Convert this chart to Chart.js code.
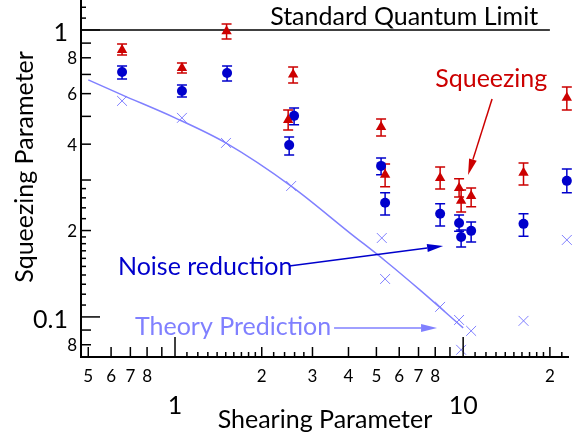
<!DOCTYPE html>
<html>
<head>
<meta charset="utf-8">
<script src="https://cdn.jsdelivr.net/npm/chart.js@4.4.1/dist/chart.umd.min.js"></script>
<style>
    html, body { margin: 0; padding: 0; background: #fff; }
    #wrap { width: 575px; height: 440px; position: relative; }
</style>
</head>
<body>
<div id="wrap"><canvas id="squeezeChart"></canvas></div>
<script>
// Squeezing (red triangles)
const sqzX  = [0.655, 1.057, 1.51, 2.57, 2.47, 5.19, 5.36, 8.32, 9.68, 9.84, 10.66, 16.2, 22.9];
const sqzY  = [0.852, 0.737, 0.99, 0.70, 0.486, 0.459, 0.313, 0.305, 0.2815, 0.254, 0.264, 0.318, 0.58];
const sqzLo = [0.818, 0.708, 0.93, 0.654, 0.448, 0.427, 0.284, 0.279, 0.262, 0.232, 0.242, 0.288, 0.526];
const sqzHi = [0.894, 0.767, 1.049, 0.743, 0.526, 0.490, 0.341, 0.333, 0.303, 0.277, 0.2815, 0.344, 0.633];

// Noise reduction (blue circles)
const noiseX  = [0.655, 1.057, 1.516, 2.59, 2.49, 5.19, 5.36, 8.32, 9.68, 9.84, 10.66, 16.2, 22.9];
const noiseY  = [0.714, 0.613, 0.708, 0.502, 0.397, 0.336, 0.25, 0.229, 0.2126, 0.190, 0.1995, 0.211, 0.298];
const noiseLo = [0.675, 0.584, 0.664, 0.467, 0.367, 0.313, 0.2266, 0.2075, 0.199, 0.1754, 0.1825, 0.191, 0.271];
const noiseHi = [0.749, 0.643, 0.749, 0.535, 0.424, 0.358, 0.271, 0.248, 0.2266, 0.201, 0.214, 0.229, 0.328];

// Theory prediction (crosses + curve)
const theoryX = [0.655, 1.057, 1.503, 2.53, 5.22, 5.36, 8.32, 9.68, 9.84, 10.66, 16.2, 22.9];
const theoryY = [0.566, 0.494, 0.404, 0.286, 0.1884, 0.1356, 0.1084, 0.0976, 0.0768, 0.0894, 0.0969, 0.1855];
const curveX = [0.5, 0.655, 1.0, 1.5, 2.55, 4.05, 5.36, 7.09, 10];
const curveY = [0.670, 0.594, 0.494, 0.404, 0.284, 0.196, 0.157, 0.124, 0.0916];

// Standard quantum limit
const sqlX = [0.4718, 20];
const sqlY = [1, 1];

// Ticks
const xMajor = [1, 10];
const xMajorText = ['1', '10'];
const xMedium = [0.5, 0.6, 0.7, 0.8, 0.9, 2, 3, 4, 5, 6, 7, 8, 9, 20];
const xSmall = [1.1, 1.2, 1.3, 1.4, 1.5, 1.6, 1.7, 1.8, 1.9, 2.2, 2.4, 2.6, 2.8,
                11, 12, 13, 14, 15, 16, 17, 18, 19, 22];
const xLabelAt = [0.5, 0.6, 0.7, 0.8, 2, 3, 4, 5, 6, 7, 8, 20];
const xLabelText = ['5', '6', '7', '8', '2', '3', '4', '5', '6', '7', '8', '2'];

const yMajor = [1, 0.1];
const yMajorText = ['1', '0.1'];
const yMedium = [0.08, 0.09, 0.2, 0.3, 0.4, 0.5, 0.6, 0.7, 0.8, 0.9];
const ySmall = [0.11, 0.12, 0.13, 0.14, 0.15, 0.16, 0.17, 0.18, 0.19,
                0.22, 0.24, 0.26, 0.28, 1.1, 1.2];
const yLabelAt = [0.8, 0.6, 0.4, 0.2, 0.08];
const yLabelText = ['8', '6', '4', '2', '8'];

const RED = '#cc0000';
const BLUE = '#0000cc';
const LIGHT = '#8080ff';
const FONT = 'Lato, "Liberation Sans", sans-serif';

// Annotations (text + arrows), in data coordinates
const notes = [
    { text: 'Standard Quantum Limit', color: '#000', x: 6.24, y: 1.041, align: 'center' },
    { text: 'Squeezing', color: RED, x: 8.0, y: 0.633, align: 'left',
      arrow: [12.6, 0.575, 10.4, 0.3126] },
    { text: 'Noise reduction', color: BLUE, x: 0.634, y: 0.140, align: 'left',
      arrow: [2.49, 0.1506, 8.52, 0.1768] },
    { text: 'Theory Prediction', color: LIGHT, x: 0.726, y: 0.0866, align: 'left',
      arrow: [3.565, 0.0915, 8.12, 0.0915] }
];

const pts = (xs, ys) => xs.map((x, i) => ({ x: x, y: ys[i] }));

const errorBars = [
    { xs: sqzX, lo: sqzLo, hi: sqzHi, color: RED },
    { xs: noiseX, lo: noiseLo, hi: noiseHi, color: BLUE }
];

const errorBarPlugin = {
    id: 'errorBars',
    beforeDatasetsDraw(chart) {
        const ctx = chart.ctx, xs = chart.scales.x, ys = chart.scales.y;
        ctx.save();
        ctx.lineWidth = 1.5;
        errorBars.forEach(s => {
            ctx.strokeStyle = s.color;
            s.xs.forEach((x, i) => {
                const px = xs.getPixelForValue(x);
                const top = ys.getPixelForValue(s.hi[i]);
                const bot = ys.getPixelForValue(s.lo[i]);
                ctx.beginPath();
                ctx.moveTo(px, top); ctx.lineTo(px, bot);
                ctx.moveTo(px - 5, top); ctx.lineTo(px + 5, top);
                ctx.moveTo(px - 5, bot); ctx.lineTo(px + 5, bot);
                ctx.stroke();
            });
        });
        ctx.restore();
    }
};

const axesPlugin = {
    id: 'logAxes',
    afterDraw(chart) {
        const ctx = chart.ctx, xs = chart.scales.x, ys = chart.scales.y, a = chart.chartArea;
        ctx.save();
        ctx.strokeStyle = '#000';
        ctx.fillStyle = '#000';
        ctx.lineWidth = 2;
        ctx.beginPath();
        ctx.moveTo(a.left, a.top); ctx.lineTo(a.left, a.bottom); ctx.lineTo(a.right, a.bottom);
        ctx.stroke();

        ctx.lineWidth = 1.5;
        const xTick = (vals, len) => vals.forEach(v => {
            const p = xs.getPixelForValue(v);
            ctx.beginPath(); ctx.moveTo(p, a.bottom); ctx.lineTo(p, a.bottom - len); ctx.stroke();
        });
        const yTick = (vals, len) => vals.forEach(v => {
            const p = ys.getPixelForValue(v);
            ctx.beginPath(); ctx.moveTo(a.left, p); ctx.lineTo(a.left + len, p); ctx.stroke();
        });
        xTick(xMajor, 20); xTick(xMedium, 10); xTick(xSmall, 5);
        yTick(yMajor, 19); yTick(yMedium, 10); yTick(ySmall, 5);

        // tick labels
        ctx.textBaseline = 'middle';
        ctx.textAlign = 'center';
        ctx.font = '17px ' + FONT;
        xLabelAt.forEach((v, i) => ctx.fillText(xLabelText[i], xs.getPixelForValue(v), a.bottom + 20));
        ctx.font = '25px ' + FONT;
        xMajor.forEach((v, i) => ctx.fillText(xMajorText[i], xs.getPixelForValue(v), a.bottom + 49));

        ctx.textAlign = 'right';
        ctx.font = '17px ' + FONT;
        yLabelAt.forEach((v, i) => ctx.fillText(yLabelText[i], a.left - 4, ys.getPixelForValue(v) + 1));
        ctx.font = '25px ' + FONT;
        yMajor.forEach((v, i) => ctx.fillText(yMajorText[i], a.left - 13, ys.getPixelForValue(v) + 3));

        // axis titles
        ctx.textBaseline = 'alphabetic';
        ctx.textAlign = 'center';
        ctx.fillText('Shearing Parameter', 325, 428);
        ctx.save();
        ctx.translate(33, 167);
        ctx.rotate(-Math.PI / 2);
        ctx.fillText('Squeezing Parameter', 0, 0);
        ctx.restore();

        // annotations
        notes.forEach(n => {
            ctx.fillStyle = n.color;
            ctx.strokeStyle = n.color;
            ctx.textAlign = n.align;
            ctx.fillText(n.text, xs.getPixelForValue(n.x), ys.getPixelForValue(n.y));
            if (n.arrow) {
                const x1 = xs.getPixelForValue(n.arrow[0]), y1 = ys.getPixelForValue(n.arrow[1]);
                const x2 = xs.getPixelForValue(n.arrow[2]), y2 = ys.getPixelForValue(n.arrow[3]);
                const ang = Math.atan2(y2 - y1, x2 - x1);
                const hl = 16, hw = 4;
                const bx = x2 - hl * Math.cos(ang), by = y2 - hl * Math.sin(ang);
                ctx.lineWidth = 1.5;
                ctx.beginPath(); ctx.moveTo(x1, y1); ctx.lineTo(bx, by); ctx.stroke();
                ctx.beginPath();
                ctx.moveTo(x2, y2);
                ctx.lineTo(bx - hw * Math.sin(ang), by + hw * Math.cos(ang));
                ctx.lineTo(bx + hw * Math.sin(ang), by - hw * Math.cos(ang));
                ctx.closePath();
                ctx.fill();
            }
        });
        ctx.restore();
    }
};

new Chart(document.getElementById('squeezeChart'), {
    type: 'scatter',
    data: {
        datasets: [
            {
                label: 'Squeezing',
                data: pts(sqzX, sqzY),
                pointStyle: 'triangle',
                pointRadius: 6,
                backgroundColor: RED,
                borderColor: RED,
                borderWidth: 0,
                clip: false
            },
            {
                label: 'Noise reduction',
                data: pts(noiseX, noiseY),
                pointStyle: 'circle',
                pointRadius: 5,
                backgroundColor: BLUE,
                borderColor: BLUE,
                borderWidth: 0,
                clip: false
            },
            {
                label: 'Theory points',
                data: pts(theoryX, theoryY),
                pointStyle: 'crossRot',
                pointRadius: 7,
                borderColor: LIGHT,
                borderWidth: 1,
                clip: false
            },
            {
                label: 'Theory Prediction',
                data: pts(curveX, curveY),
                showLine: true,
                cubicInterpolationMode: 'monotone',
                borderColor: LIGHT,
                borderWidth: 1.5,
                pointRadius: 0
            },
            {
                label: 'Standard Quantum Limit',
                data: pts(sqlX, sqlY),
                showLine: true,
                borderColor: '#000',
                borderWidth: 1.5,
                pointRadius: 0,
                clip: false
            }
        ]
    },
    options: {
        responsive: true,
        maintainAspectRatio: false,
        animation: false,
        layout: { autoPadding: false, padding: { left: 81, right: 6, top: 0, bottom: 83 } },
        scales: {
            x: { type: 'logarithmic', display: false, min: 0.4718, max: 23.3 },
            y: { type: 'logarithmic', display: false, min: 0.0725, max: 1.272 }
        },
        plugins: {
            legend: { display: false },
            tooltip: { enabled: false }
        }
    },
    plugins: [errorBarPlugin, axesPlugin]
});
</script>
</body>
</html>
